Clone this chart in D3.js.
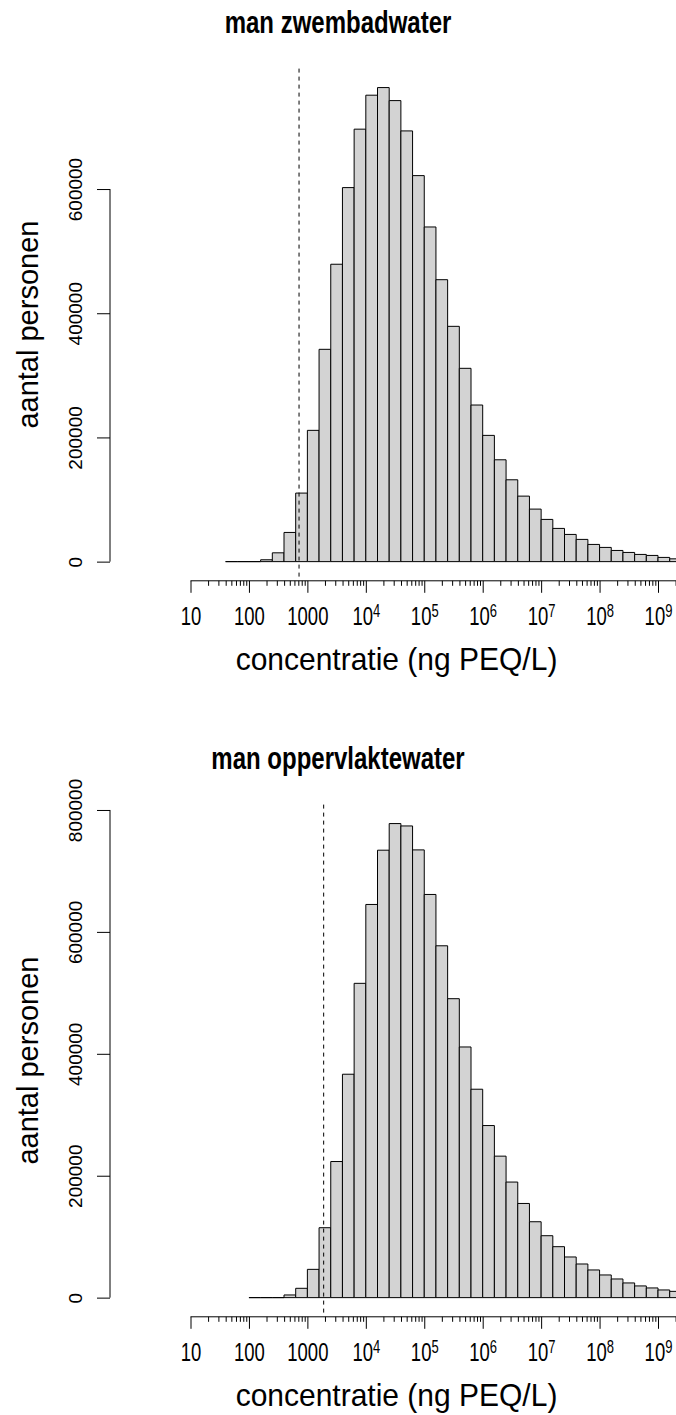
<!DOCTYPE html>
<html>
<head>
<meta charset="utf-8">
<script src="https://cdn.jsdelivr.net/npm/d3@7"></script>
<style>
  html, body { margin: 0; padding: 0; background: #fff; }
  svg { display: block; }
  text { font-family: "Liberation Sans", Arial, Helvetica, sans-serif; fill: #000; }
</style>
</head>
<body>
<svg id="chart" width="676" height="1415"></svg>
<script>
// ---------------- data ----------------
const titles = ["man zwembadwater", "man oppervlaktewater"];
const binWidth = 0.2;                         // histogram bin width in log10 units
const binStarts = [1.6, 2.0];                 // log10 of first bin edge per panel
const zwembadCounts = [0, 0, 0, 3000, 14200, 47000, 110400, 211400, 341900, 478900,
  602300, 696400, 751100, 763400, 742400, 693600, 621600, 538900, 454000, 378900,
  311300, 252200, 203300, 164000, 131800, 105500, 84600, 68000, 53500, 43800,
  35800, 27700, 22900, 18000, 14800, 11600, 10000, 6800, 4500];
const oppervlakteCounts = [0, 0, 0, 4400, 15300, 46400, 114700, 223300, 366500, 515600,
  645000, 734000, 777700, 773800, 734500, 661400, 577200, 490400, 411200, 341900,
  282300, 232100, 189600, 154500, 124500, 101600, 83600, 66700, 55200, 45400,
  37200, 30600, 24100, 19200, 15900, 12600, 10300];
const thresholds = [720, 1900];               // dashed vertical reference lines
const yTicksTop = [0, 200000, 400000, 600000];
const yTicksBottom = [0, 200000, 400000, 600000, 800000];
const xMajorTicks = [10, 100, 1000, 1e4, 1e5, 1e6, 1e7, 1e8, 1e9];
const xLabel = "concentratie (ng PEQ/L)";
const yLabel = "aantal personen";

// ---------------- layout ----------------
const W = 676;
const panelOffset = 736;
const plotTop = 68.6, plotBottom = 580.6;
const yAxisX = 110;
const xAxisY = 580.8;
const textStretch = 1.35;   // reference glyphs are taller than wide

const svg = d3.select("#chart");
svg.append("rect").attr("width", W).attr("height", 1415).attr("fill", "#fff");

const x = d3.scaleLog().domain([10, 1e9]).range([190.5, 658]);

function minorTicks() {
  const out = [];
  for (let e = 1; e <= 9; e++) {
    for (let m = 2; m <= 9; m++) out.push(m * Math.pow(10, e));
  }
  return out;
}

function panel(idx, counts, yTicks) {
  const g = svg.append("g").attr("transform", `translate(0,${idx * panelOffset})`);
  const ymax = d3.max(counts);
  const y = d3.scaleLinear()
    .domain([-0.04 * ymax, 1.04 * ymax])
    .range([plotBottom, plotTop]);

  const bins = counts.map((c, i) => ({
    lo: binStarts[idx] + i * binWidth,
    hi: binStarts[idx] + (i + 1) * binWidth,
    c
  }));

  // bars (paths so that empty bins still show their outline on the baseline)
  g.append("g").selectAll("path").data(bins).join("path")
    .attr("d", d => {
      const x0 = x(Math.pow(10, d.lo)), x1 = x(Math.pow(10, d.hi));
      const y0 = y(0), y1 = y(d.c);
      return `M${x0},${y0}H${x1}V${y1}H${x0}Z`;
    })
    .attr("fill", "#d3d3d3")
    .attr("stroke", "#000")
    .attr("stroke-width", 1);

  // dashed threshold line
  g.append("line")
    .attr("x1", x(thresholds[idx])).attr("x2", x(thresholds[idx]))
    .attr("y1", plotTop).attr("y2", plotBottom)
    .attr("stroke", "#000").attr("stroke-width", 1)
    .attr("stroke-dasharray", "4,4");

  // y axis
  const ya = g.append("g").attr("transform", `translate(${yAxisX},0)`)
    .call(d3.axisLeft(y).tickValues(yTicks).tickSize(13).tickSizeOuter(0)
      .tickFormat(d3.format("d")));
  ya.select(".domain").remove();
  ya.append("line")
    .attr("x1", 0).attr("x2", 0)
    .attr("y1", y(yTicks[0])).attr("y2", y(yTicks[yTicks.length - 1]))
    .attr("stroke", "#000");
  ya.selectAll(".tick line").attr("stroke", "#000");
  ya.selectAll(".tick text")
    .attr("x", null).attr("dy", null)
    .attr("text-anchor", "middle")
    .attr("transform", "translate(-28.5,0) rotate(-90)")
    .style("font-size", "19px")
    .style("font-family", "'Liberation Sans', Arial, sans-serif")
    .attr("fill", "#000");

  // x axis: minor ticks
  const xMin = g.append("g").attr("transform", `translate(0,${xAxisY})`)
    .call(d3.axisBottom(x).tickValues(minorTicks()).tickSize(5).tickSizeOuter(0).tickFormat(""));
  xMin.select(".domain").remove();
  xMin.selectAll(".tick line").attr("stroke", "#000");

  // x axis: major ticks with labels
  const xMaj = g.append("g").attr("transform", `translate(0,${xAxisY})`)
    .call(d3.axisBottom(x).tickValues(xMajorTicks).tickSize(12).tickSizeOuter(0).tickFormat(""));
  xMaj.select(".domain").remove();
  xMaj.selectAll(".tick line").attr("stroke", "#000");
  xMaj.append("line")
    .attr("x1", x(10)).attr("x2", W + 10)
    .attr("y1", 0).attr("y2", 0)
    .attr("stroke", "#000");
  xMaj.selectAll(".tick").each(function (d) {
    const t = d3.select(this).append("text")
      .attr("transform", `translate(0,44) scale(1,${textStretch})`)
      .attr("text-anchor", "middle")
      .style("font-size", "18.5px")
      .attr("fill", "#000");
    const e = Math.round(Math.log10(d));
    if (e <= 3) {
      t.text(String(d));
    } else {
      t.append("tspan").text("10");
      t.append("tspan").attr("dy", -6).style("font-size", "13px").text(String(e));
    }
  });

  // title
  g.append("text")
    .attr("transform", `translate(${W / 2},33) scale(1,1.3)`)
    .attr("text-anchor", "middle")
    .style("font-size", "24px").style("font-weight", "bold")
    .text(titles[idx]);

  // axis titles
  g.append("text")
    .attr("transform", `translate(396.5,670) scale(1,1.05)`)
    .attr("text-anchor", "middle")
    .style("font-size", "30px")
    .text(xLabel);
  g.append("text")
    .attr("transform", `translate(38,${(plotTop + plotBottom) / 2}) rotate(-90)`)
    .attr("text-anchor", "middle")
    .style("font-size", "29px")
    .text(yLabel);
}

panel(0, zwembadCounts, yTicksTop);
panel(1, oppervlakteCounts, yTicksBottom);
</script>
</body>
</html>
